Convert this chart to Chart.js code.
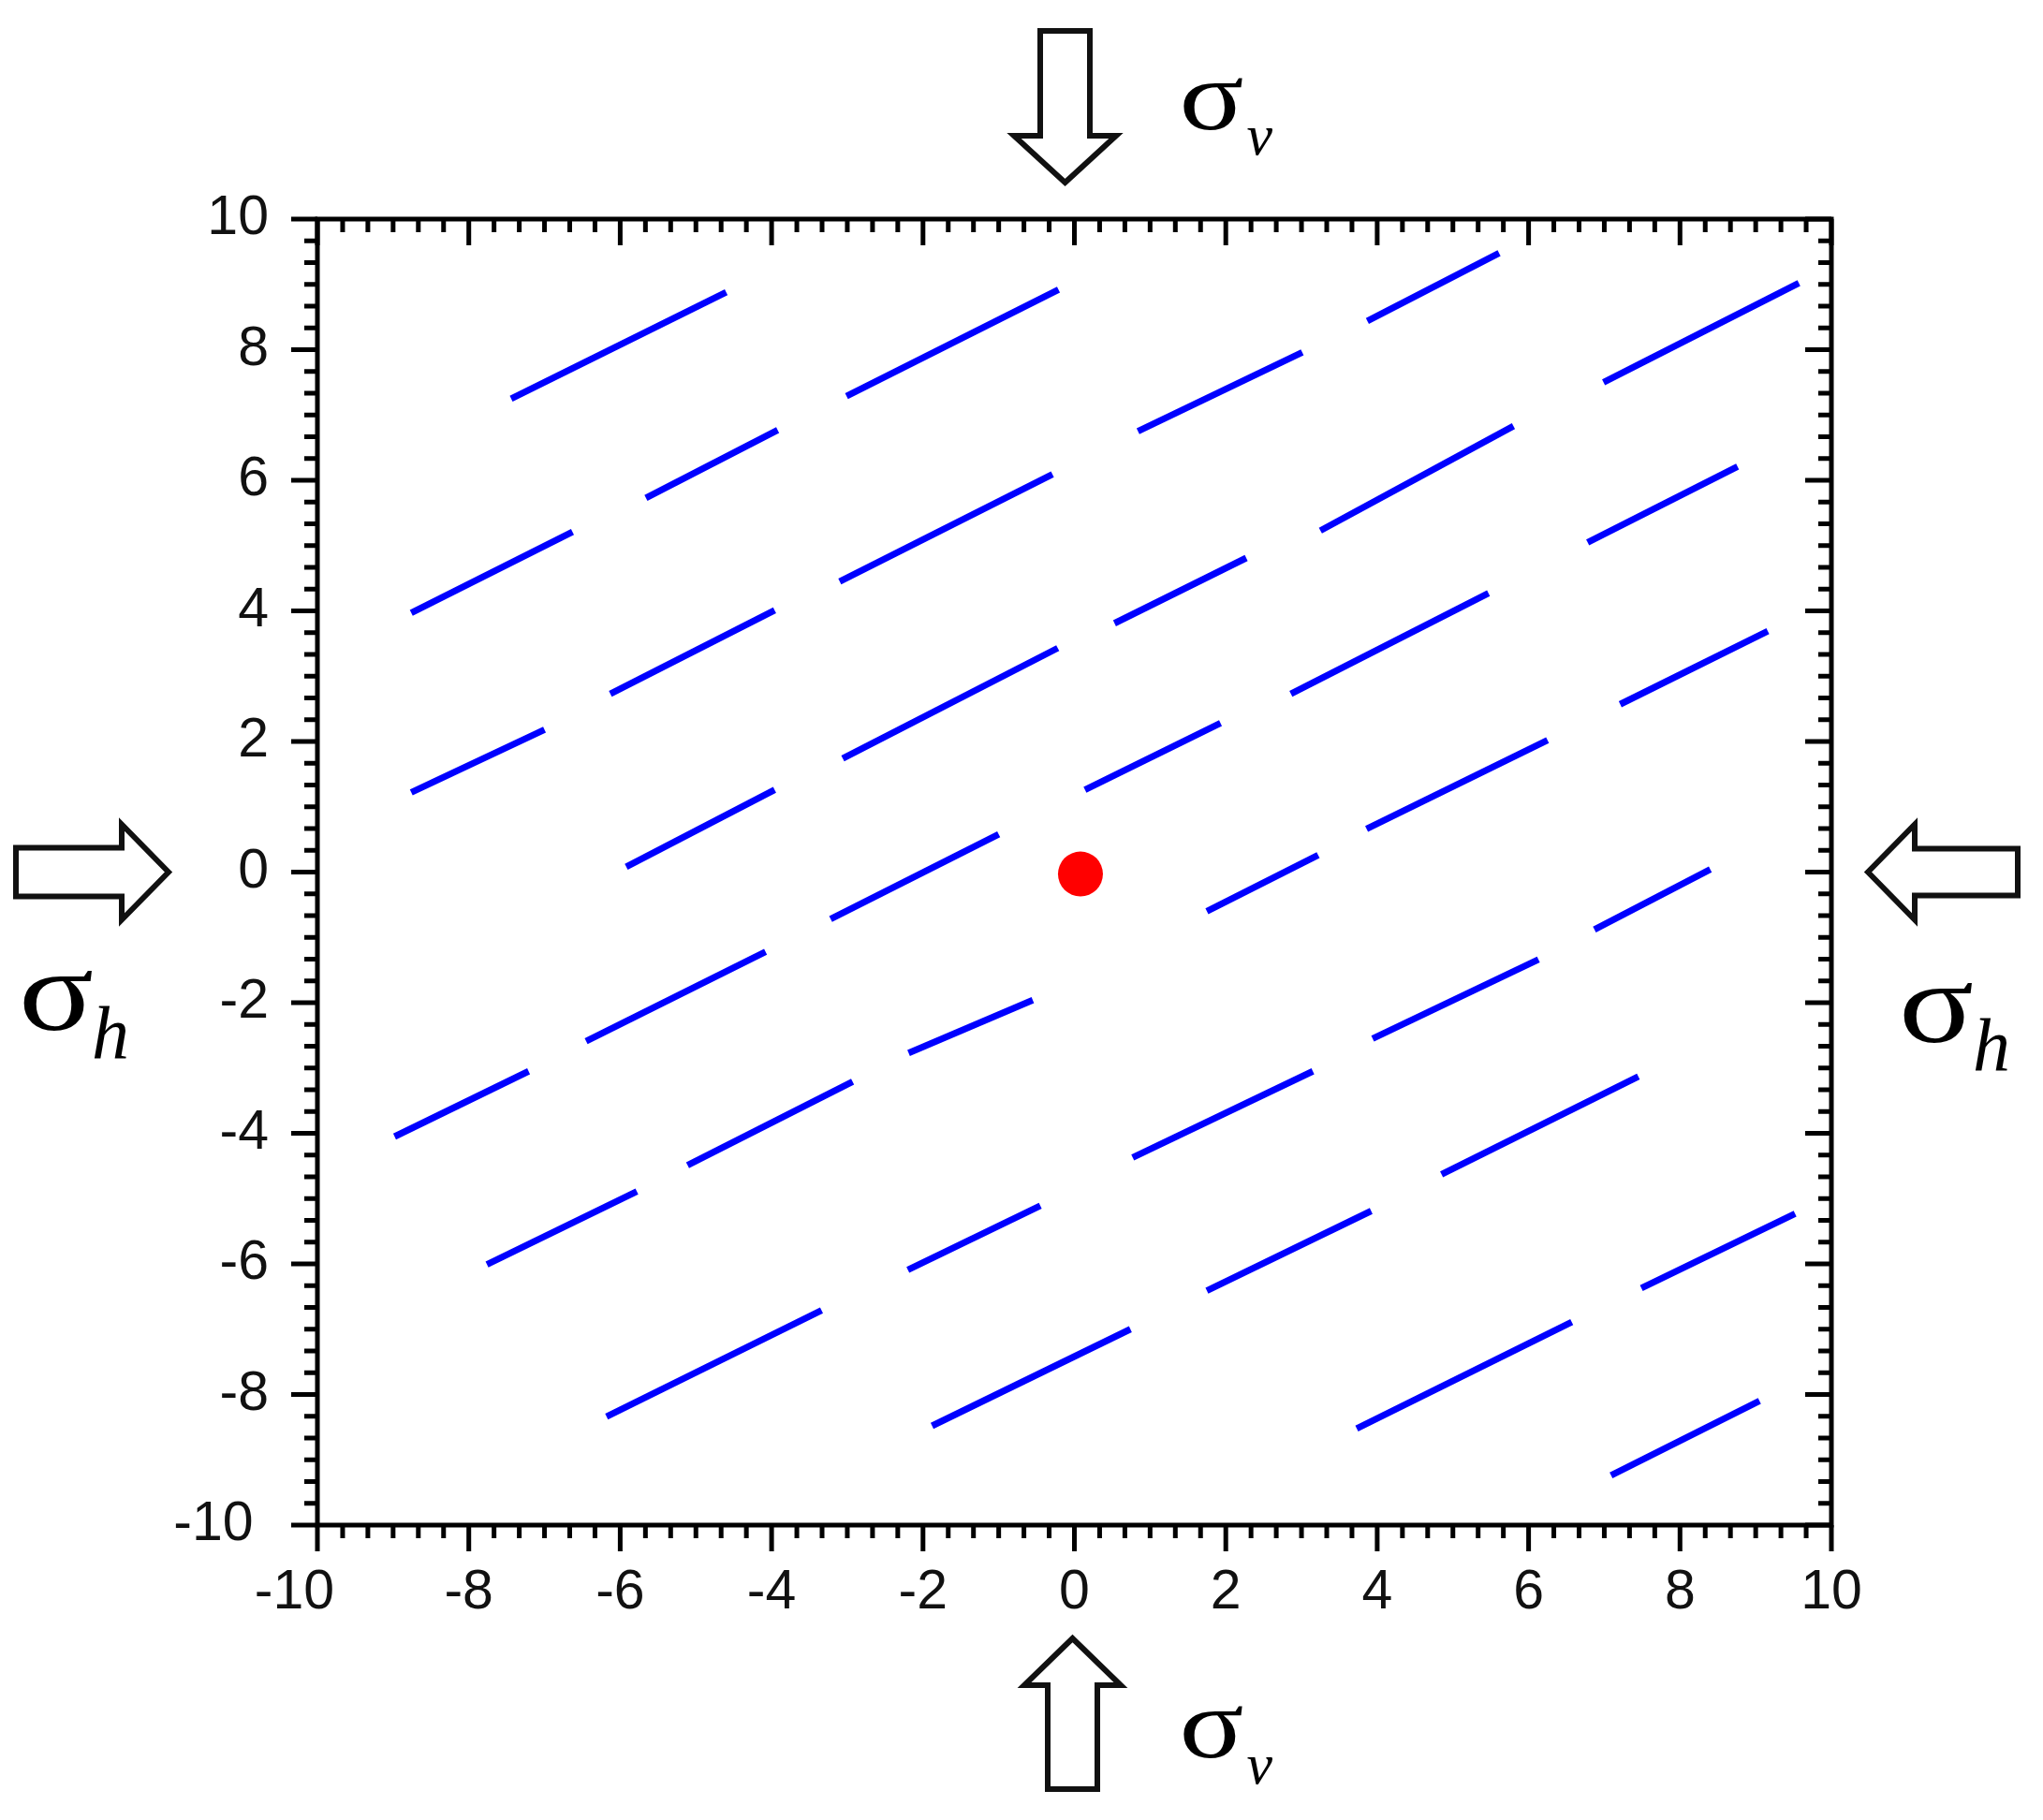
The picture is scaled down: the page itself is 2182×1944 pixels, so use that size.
<!DOCTYPE html>
<html>
<head>
<meta charset="utf-8">
<script src="https://cdn.jsdelivr.net/npm/chart.js@4.4.1/dist/chart.umd.min.js"></script>
<style>
  html, body { margin: 0; padding: 0; background: #fff; }
  canvas { display: block; }
</style>
</head>
<body>
<canvas id="graficoFraturas" width="2182" height="1944"></canvas>
<script>
// ---------------- DADOS ----------------
// cada fratura = segmento do ponto inicial ao ponto final
const inicioX = [-7.44, -3.01, 3.87, 6.99, 0.84, -5.66, 3.25, 6.78, -8.76, -3.10, 0.53, -6.13, 2.86, 7.21, -8.76, -3.06, 0.14, 3.86, -5.92, -3.22, 1.75, 6.87, -6.45, -2.19, 3.94, -8.98, -5.11, 0.77, 4.85, -7.76, -2.20, 1.75, 7.49, -6.18, -1.88, 3.73, 7.09];
const inicioY = [7.25, 7.29, 8.44, 7.50, 6.75, 5.73, 5.23, 5.05, 3.97, 4.45, 3.81, 2.73, 2.73, 2.57, 1.22, 1.74, 1.26, 0.66, 0.08, -0.72, -0.60, -0.88, -2.59, -2.77, -2.55, -4.05, -4.49, -4.37, -4.63, -6.01, -6.09, -6.41, -6.37, -8.34, -8.48, -8.52, -9.24];
const fimX = [-4.60, -0.21, 5.61, 9.57, 3.01, -3.92, 5.80, 8.76, -6.63, -0.29, 2.27, -3.96, 5.47, 9.16, -7.00, -0.22, 1.93, 6.25, -3.96, -1.00, 3.22, 8.40, -4.08, -0.55, 6.13, -7.21, -2.93, 3.15, 7.45, -5.78, -0.45, 3.92, 9.52, -3.34, 0.74, 6.57, 9.05];
const fimY = [8.88, 8.92, 9.48, 9.02, 7.96, 6.77, 6.83, 6.21, 5.21, 6.09, 4.81, 4.01, 4.27, 3.69, 2.18, 3.43, 2.28, 2.02, 1.26, 0.58, 0.26, 0.04, -1.22, -1.96, -1.34, -3.05, -3.21, -3.05, -3.13, -4.89, -5.11, -5.19, -5.23, -6.71, -7.00, -6.89, -8.10];

// poço (ponto vermelho)
const pocoX = [0.08];
const pocoY = [-0.03];

// eixos
const eixoMin = -10;
const eixoMax = 10;
const passoMaior = 2;

// ---------------- MONTANDO OS DATASETS ----------------
const datasets = inicioX.map((x0, i) => ({
  data: [{ x: x0, y: inicioY[i] }, { x: fimX[i], y: fimY[i] }],
  showLine: true,
  borderColor: '#0000ff',
  borderWidth: 7,
  borderCapStyle: 'butt',
  pointRadius: 0,
  pointHoverRadius: 0
}));

datasets.push({
  data: pocoX.map((x, i) => ({ x: x, y: pocoY[i] })),
  backgroundColor: '#ff0000',
  borderWidth: 0,
  pointRadius: 24,
  pointHoverRadius: 24
});

// ---------------- SETAS DE TENSÃO ----------------
function desenharSeta(ctx, pontaX, pontaY, angulo, comp, compCabeca, largCabeca, largHaste) {
  ctx.save();
  ctx.translate(pontaX, pontaY);
  ctx.rotate(angulo);
  ctx.beginPath();
  ctx.moveTo(0, 0);
  ctx.lineTo(-compCabeca, -largCabeca / 2);
  ctx.lineTo(-compCabeca, -largHaste / 2);
  ctx.lineTo(-comp, -largHaste / 2);
  ctx.lineTo(-comp, largHaste / 2);
  ctx.lineTo(-compCabeca, largHaste / 2);
  ctx.lineTo(-compCabeca, largCabeca / 2);
  ctx.closePath();
  ctx.fillStyle = '#fff';
  ctx.fill();
  ctx.lineWidth = 6;
  ctx.lineJoin = 'miter';
  ctx.strokeStyle = '#111';
  ctx.stroke();
  ctx.restore();
}

// σ com subscrito (o σ é um pouco mais largo na figura original)
function desenharSigma(ctx, x, y, sub, tamSigma, tamSub, dx, dy) {
  ctx.save();
  ctx.fillStyle = '#000';
  ctx.textBaseline = 'alphabetic';
  ctx.textAlign = 'left';
  ctx.save();
  ctx.translate(x, y);
  ctx.scale(1.22, 1);
  ctx.font = `${tamSigma}px "Liberation Serif", "DejaVu Serif", serif`;
  ctx.fillText('σ', 0, 0);
  ctx.restore();
  ctx.font = `italic ${tamSub}px "Liberation Serif", "DejaVu Serif", serif`;
  ctx.fillText(sub, x + dx, y + dy);
  ctx.restore();
}

// moldura com ticks (fora na esquerda/baixo, dentro no topo/direita) + setas
const molduraPlugin = {
  id: 'moldura',
  afterDraw(chart) {
    const { ctx, chartArea: a, scales: { x, y } } = chart;
    ctx.save();
    ctx.strokeStyle = '#000';
    ctx.lineWidth = 5;
    ctx.strokeRect(a.left, a.top, a.right - a.left, a.bottom - a.top);

    ctx.lineCap = 'butt';
    for (let i = -30; i <= 30; i++) {
      const v = i / 3;
      const len = i % 6 === 0 ? 28 : 14;
      const px = x.getPixelForValue(v);
      const py = y.getPixelForValue(v);
      ctx.beginPath();
      ctx.moveTo(px, a.bottom); ctx.lineTo(px, a.bottom + len);
      ctx.moveTo(px, a.top); ctx.lineTo(px, a.top + len);
      ctx.moveTo(a.left, py); ctx.lineTo(a.left - len, py);
      ctx.moveTo(a.right, py); ctx.lineTo(a.right - len, py);
      ctx.stroke();
    }
    ctx.restore();

    const x0 = x.getPixelForValue(0);
    const y0 = y.getPixelForValue(0);
    desenharSeta(ctx, x0 - 10, a.top - 39, Math.PI / 2, 162, 50, 109, 53);
    desenharSeta(ctx, x0 - 2, a.bottom + 121, -Math.PI / 2, 161, 50, 103, 53);
    desenharSeta(ctx, a.left - 159, y0, 0, 163, 50, 102, 52);
    desenharSeta(ctx, a.right + 39, y0, Math.PI, 160, 50, 102, 50);

    desenharSigma(ctx, x0 + 112, a.top - 96, 'v', 105, 62, 72, 27);
    desenharSigma(ctx, x0 + 112, a.bottom + 248, 'v', 105, 62, 72, 28);
    desenharSigma(ctx, 20, y0 + 168, 'h', 122, 80, 78, 30);
    desenharSigma(ctx, a.right + 72, y0 + 181, 'h', 122, 80, 79, 30);
  }
};

// ---------------- GRAFICO ----------------
const fonteTicks = { family: '"Liberation Sans", Arial, sans-serif', size: 59 };

const ctxFraturas = document.getElementById('graficoFraturas').getContext('2d');
const graficoFraturas = new Chart(ctxFraturas, {
  type: 'scatter',
  data: { datasets: datasets },
  options: {
    responsive: false,
    animation: false,
    devicePixelRatio: 1,
    layout: { padding: { left: 0, top: 234, right: 226, bottom: 0 } },
    scales: {
      x: {
        min: eixoMin, max: eixoMax,
        grid: { display: false, drawTicks: false },
        border: { display: false },
        afterFit: s => { s.height = 315; },
        ticks: {
          stepSize: passoMaior,
          padding: 37,
          color: '#111',
          font: fonteTicks,
          maxRotation: 0,
          callback: v => v === -10 ? '-10   ' : String(v)
        }
      },
      y: {
        min: eixoMin, max: eixoMax,
        grid: { display: false, drawTicks: false },
        border: { display: false },
        afterFit: s => { s.width = 339; },
        ticks: {
          stepSize: passoMaior,
          padding: 52,
          color: '#111',
          font: fonteTicks,
          callback: v => v === -10 ? '-10 ' : String(v)
        }
      }
    },
    plugins: { legend: { display: false }, tooltip: { enabled: false } }
  },
  plugins: [molduraPlugin]
});
</script>
</body>
</html>
